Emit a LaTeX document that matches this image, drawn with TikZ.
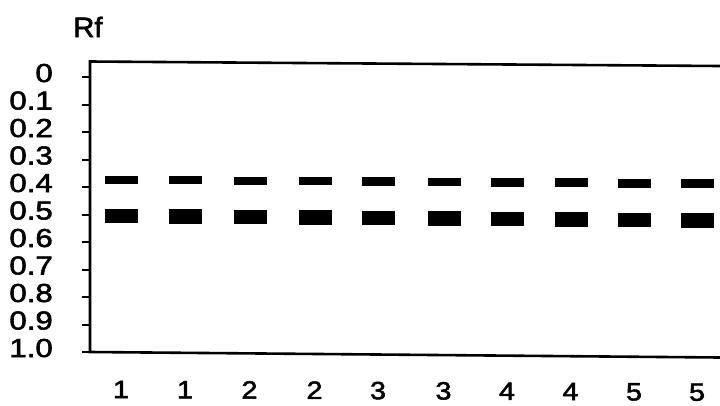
\documentclass[tikz,border=0pt]{standalone}
\usepackage{fontspec}
\setmainfont{Liberation Sans}
\newfontfamily\heavyfont[FakeBold=2]{Liberation Sans}
\begin{document}
\begin{tikzpicture}[x=1pt,y=-1pt,
  axisline/.style={line width=2.6pt},
  tickline/.style={line width=2pt},
  band/.style={fill=black,draw=none},
  ylab/.style={anchor=base east,inner sep=0pt,xscale=1.2,font=\heavyfont\fontsize{26}{26}\selectfont},
  lanelab/.style={anchor=base,inner sep=0pt,xscale=1.15,font=\heavyfont\fontsize{25}{25}\selectfont},
  titlelab/.style={anchor=base west,inner sep=0pt,xscale=1.05,font=\heavyfont\fontsize{28}{28}\selectfont}]
\useasboundingbox (0,0) rectangle (720,405);
% axes
\coordinate (tl) at (90,61.5);
\coordinate (tr) at (720,66);
\coordinate (bl) at (90,352);
\coordinate (br) at (720,357.5);
\draw[axisline] (tr) -- (tl) -- (bl) -- (br);
\node[titlelab] (rf) at (73,37) {Rf};
% ticks and labels
\foreach \k/\t in {0/0,1/0.1,2/0.2,3/0.3,4/0.4,5/0.5,6/0.6,7/0.7,8/0.8,9/0.9,10/1.0}{
  \coordinate (ta\k) at (82,77+27.5*\k);
  \coordinate (tb\k) at (90,77+27.5*\k);
  \draw[tickline] (ta\k) -- (tb\k);
  \node[ylab] (yl\k) at (53,82+27.5*\k) {\t};
}
% lanes
\foreach \i/\c/\l in {0/121.5/1,1/185.5/1,2/250/2,3/315/2,4/378.5/3,5/444/3,6/507.5/4,7/571/4,8/634.5/5,9/697.5/5}{
  \fill[band] (\c-16.5,176+0.35*\i) rectangle (\c+16.5,184+0.45*\i);
  \fill[band] (\c-16.5,209+0.45*\i) rectangle (\c+16.5,223+0.55*\i);
  \node[lanelab] (lane\i) at (\c-0.5,398+0.3*\i) {\l};
}
\end{tikzpicture}
\end{document}
